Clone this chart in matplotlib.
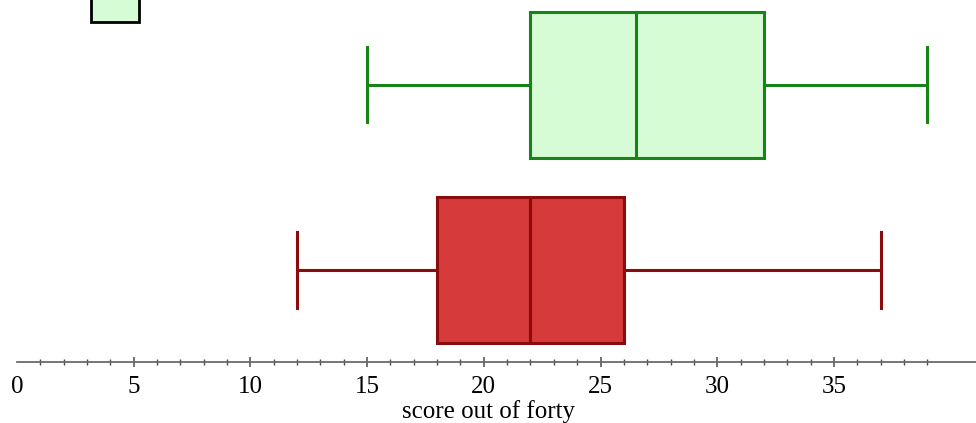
import matplotlib
matplotlib.use("Agg")
from matplotlib import pyplot as plt
from matplotlib.patches import Rectangle
import numpy as np

plt.rcParams['font.family'] = ['Liberation Serif', 'DejaVu Serif']

# five-number summaries (min, Q1, median, Q3, max)
groups = ['green', 'red']
mins = [15, 12]
q1s = [22, 18]
medians = [26.5, 22]
q3s = [32, 26]
maxs = [39, 37]
tick_labels = ['0', '5', '10', '15', '20', '25', '30', '35']

fills = ['#d5fcd5', '#d63a3a']
edges = ['#188418', '#8b0c0c']
centres = [277, 92]   # vertical placement in pixel-ish units

W, H = 976, 423
fig = plt.figure(figsize=(W / 100, H / 100), dpi=100)
ax = fig.add_axes([0, (H - 362) / H, 1, 362 / H])

px_per_unit = 23.34
x0 = -17 / px_per_unit
x1 = (W - 17) / px_per_unit

stats = []
for i in range(len(groups)):
    stats.append(dict(whislo=mins[i], q1=q1s[i], med=medians[i],
                      q3=q3s[i], whishi=maxs[i], fliers=[]))

for i, st in enumerate(stats):
    ax.bxp([st], positions=[centres[i]], widths=146, capwidths=75,
           vert=False, patch_artist=True, showfliers=False,
           boxprops=dict(facecolor=fills[i], edgecolor=edges[i], linewidth=2.2),
           medianprops=dict(color=edges[i], linewidth=2.2),
           whiskerprops=dict(color=edges[i], linewidth=2.2),
           capprops=dict(color=edges[i], linewidth=2.2))

ax.set_xlim(x0, x1)
ax.set_ylim(0, 362)
ax.set_yticks([])
for s in ['top', 'left', 'right']:
    ax.spines[s].set_visible(False)
ax.spines['bottom'].set_color('#6a6a6a')
ax.spines['bottom'].set_linewidth(1.3)
ax.spines['bottom'].set_bounds(0, x1)

ax.set_xticks(np.arange(0, 40, 5))
ax.set_xticklabels(tick_labels)
ax.set_xticks(np.arange(1, 40), minor=True)
ax.tick_params(axis='x', which='major', direction='inout', length=7.5,
               width=1.1, color='#4a4a4a', labelsize=18, pad=6)
ax.tick_params(axis='x', which='minor', direction='inout', length=4.3,
               width=1.0, color='#4a4a4a')
ax.xaxis.get_major_ticks()[0].tick1line.set_visible(False)
ax.set_xlabel('score out of forty', fontsize=18, labelpad=2)

# partial legend swatch at the top
fig.patches.append(Rectangle((91 / W, (H - 22) / H), 48 / W, 40 / H,
                             transform=fig.transFigure, facecolor=fills[0],
                             edgecolor='black', linewidth=2))

fig.savefig('out.png', dpi=100, facecolor='white')
